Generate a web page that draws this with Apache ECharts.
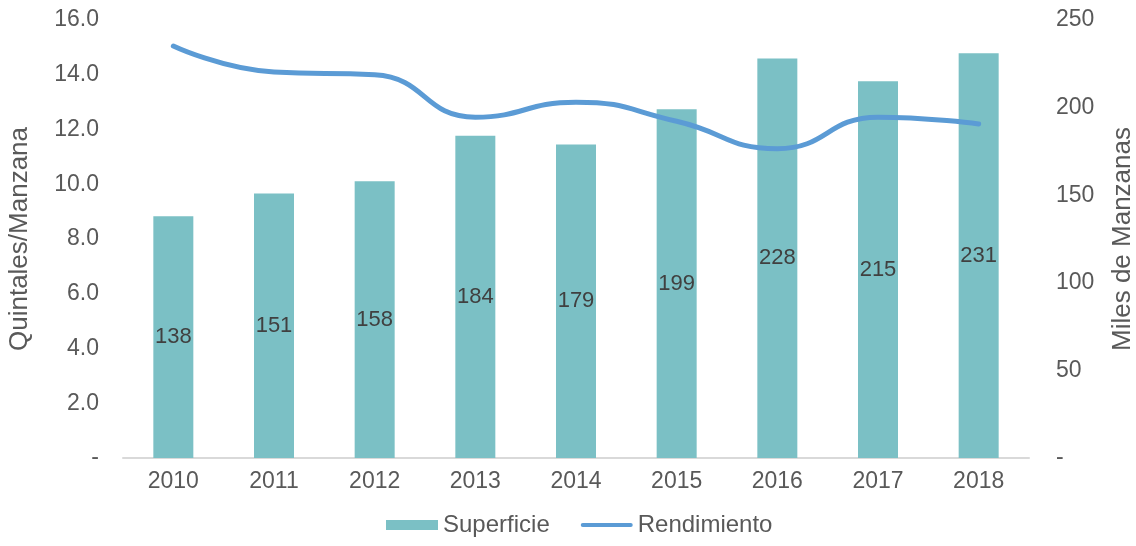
<!DOCTYPE html>
<html>
<head>
<meta charset="utf-8">
<script src="https://cdn.jsdelivr.net/npm/echarts@6/dist/echarts.min.js"></script>
<style>
  html, body { margin: 0; padding: 0; background: #ffffff; }
  #chart { width: 1136px; height: 546px; }
</style>
</head>
<body>
<div id="chart"></div>
<script>
// Años
const years = ['2010', '2011', '2012', '2013', '2014', '2015', '2016', '2017', '2018'];
// Superficie (miles de manzanas)
const superficie = [138, 151, 158, 184, 179, 199, 228, 215, 231];
// Rendimiento (quintales por manzana)
const rendimiento = [15.05, 14.1, 14.0, 12.45, 13.0, 12.3, 11.3, 12.45, 12.2];

const textColor = '#595959';
const font = 'Liberation Sans, Arial, Helvetica, sans-serif';
const fs = 23;

const chart = echarts.init(document.getElementById('chart'), null, { renderer: 'canvas' });
chart.setOption({
  animation: false,
  textStyle: { fontFamily: font, color: textColor },
  grid: { left: 123, right: 107, top: 20, bottom: 88, containLabel: false, outerBoundsMode: 'none' },
  legend: {
    bottom: 4,
    left: 381,
    itemGap: 31,
    itemWidth: 52,
    itemHeight: 10,
    textStyle: { fontSize: 24, color: textColor, fontFamily: font },
    data: [
      { name: 'Superficie', icon: 'rect' },
      { name: 'Rendimiento', icon: 'path://M2,0 L50,0 A2,2 0 0 1 50,4 L2,4 A2,2 0 0 1 2,0 Z' }
    ]
  },
  xAxis: {
    type: 'category',
    data: years,
    axisLine: { show: true, lineStyle: { color: '#d9d9d9', width: 2 } },
    axisTick: { show: false },
    axisLabel: { fontSize: fs, color: textColor, margin: 12, fontFamily: font }
  },
  yAxis: [
    {
      type: 'value',
      min: 0, max: 16, interval: 2,
      name: 'Quintales/Manzana',
      nameLocation: 'middle',
      nameGap: 90,
      nameRotate: 90,
      nameTextStyle: { fontSize: 26, color: textColor, fontFamily: font },
      axisLine: { show: false },
      axisTick: { show: false },
      splitLine: { show: false },
      axisLabel: {
        fontSize: fs, color: textColor, margin: 24, fontFamily: font,
        formatter: v => (v === 0 ? '-' : v.toFixed(1))
      }
    },
    {
      type: 'value',
      min: 0, max: 250, interval: 50,
      name: 'Miles de Manzanas',
      nameLocation: 'middle',
      nameGap: 81,
      nameRotate: 90,
      nameTextStyle: { fontSize: 26, color: textColor, fontFamily: font },
      axisLine: { show: false },
      axisTick: { show: false },
      splitLine: { show: false },
      axisLabel: {
        fontSize: fs, color: textColor, margin: 27, fontFamily: font,
        formatter: v => (v === 0 ? '-' : String(v))
      }
    }
  ],
  series: [
    {
      name: 'Superficie',
      type: 'bar',
      yAxisIndex: 1,
      data: superficie,
      barWidth: 40,
      itemStyle: { color: '#7bc0c5' },
      label: {
        show: true,
        position: 'inside',
        fontSize: 22,
        color: '#404040',
        fontFamily: font
      }
    },
    {
      name: 'Rendimiento',
      type: 'line',
      yAxisIndex: 0,
      data: rendimiento,
      smooth: 0.5,
      symbol: 'none',
      lineStyle: { color: '#5b9bd5', width: 5, cap: 'round' },
      itemStyle: { color: '#5b9bd5' }
    }
  ]
});
</script>
</body>
</html>
